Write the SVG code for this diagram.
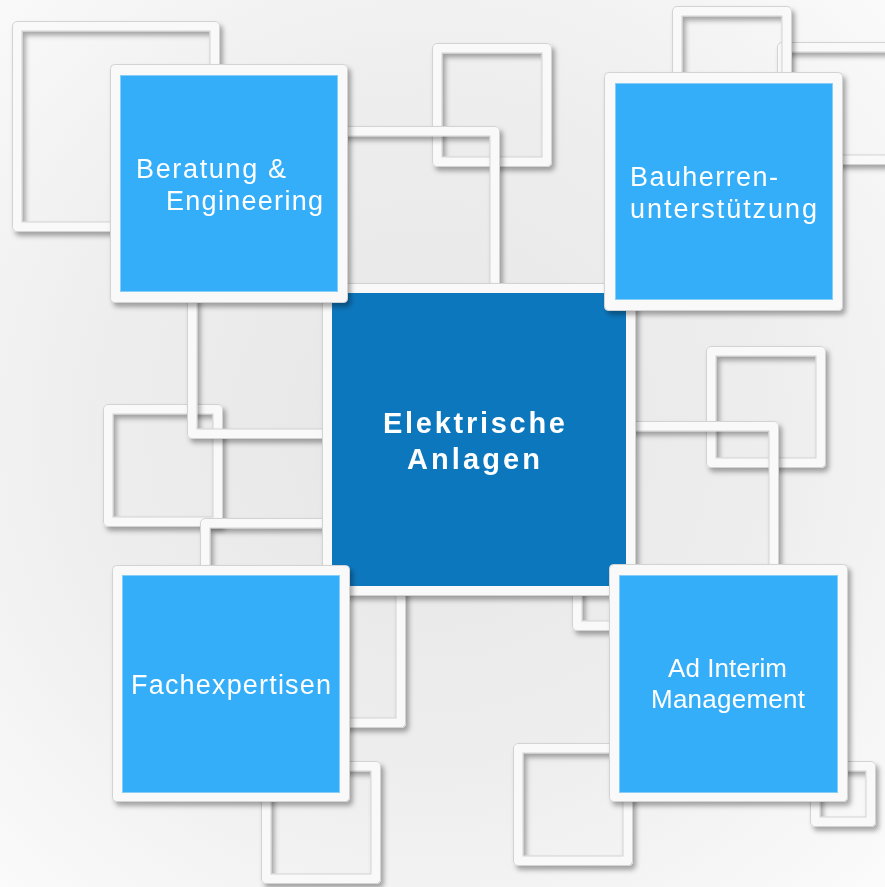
<svg xmlns="http://www.w3.org/2000/svg" width="885" height="887" viewBox="0 0 885 887">
<defs>
<radialGradient id="bg" cx="430" cy="430" r="640" gradientUnits="userSpaceOnUse">
<stop offset="0" stop-color="#e6e6e6"/>
<stop offset="0.55" stop-color="#eeeeee"/>
<stop offset="1" stop-color="#fbfbfb"/>
</radialGradient>
<filter id="sh" x="-15%" y="-15%" width="135%" height="135%">
<feGaussianBlur in="SourceAlpha" stdDeviation="2.5"/>
<feOffset dx="3" dy="4" result="o"/>
<feFlood flood-color="#000" flood-opacity="0.33"/>
<feComposite in2="o" operator="in"/>
<feMerge><feMergeNode/><feMergeNode in="SourceGraphic"/></feMerge>
</filter>
</defs>
<style>
.fr{filter:url(#sh)}
.band{fill:none;stroke:#f9f9f9;stroke-width:10;stroke-linejoin:round}
.ol{fill:none;stroke:#d3d3d3;stroke-width:1}
.card{fill:#f9f9f9;stroke:#d3d3d3;stroke-width:1}
.lb{fill:#35aef9;stroke:#86cdf8;stroke-width:1}
.db{fill:#0877bd}
.t{font-family:"Liberation Sans",Arial,sans-serif;font-size:27px;fill:#ffffff}
.ta{font-family:"Liberation Sans",Arial,sans-serif;font-size:26px;fill:#ffffff}
.tb{font-family:"Liberation Sans",Arial,sans-serif;font-size:29px;font-weight:bold;fill:#ffffff}
</style>
<rect x="0" y="0" width="885" height="887" fill="url(#bg)"/>
<g id="frames">
<g id="frameA" class="fr"><rect class="band" x="17" y="26" width="198" height="201"/><rect class="ol" x="12.5" y="21.5" width="207" height="210" rx="4.5"/><rect class="ol" x="22" y="31" width="188" height="191"/></g>
<g id="frameD" class="fr"><rect class="band" x="437" y="48" width="110" height="114"/><rect class="ol" x="432.5" y="43.5" width="119" height="123" rx="4.5"/><rect class="ol" x="442" y="53" width="100" height="104"/></g>
<g id="frameF" class="fr"><rect class="band" x="782" y="47" width="133" height="113"/><rect class="ol" x="777.5" y="42.5" width="142" height="122" rx="4.5"/><rect class="ol" x="787" y="52" width="123" height="103"/></g>
<g id="frameE" class="fr"><rect class="band" x="677" y="11" width="110" height="110"/><rect class="ol" x="672.5" y="6.5" width="119" height="119" rx="4.5"/><rect class="ol" x="682" y="16" width="100" height="100"/></g>
<g id="frameJ" class="fr"><rect class="band" x="108" y="409" width="110" height="113"/><rect class="ol" x="103.5" y="404.5" width="119" height="122" rx="4.5"/><rect class="ol" x="113" y="414" width="100" height="103"/></g>
<g id="frameB" class="fr"><rect class="band" x="192" y="131" width="303" height="303"/><rect class="ol" x="187.5" y="126.5" width="312" height="312" rx="4.5"/><rect class="ol" x="197" y="136" width="293" height="293"/></g>
<g id="frameG" class="fr"><rect class="band" x="711" y="351" width="110" height="112"/><rect class="ol" x="706.5" y="346.5" width="119" height="121" rx="4.5"/><rect class="ol" x="716" y="356" width="100" height="102"/></g>
<g id="frameH" class="fr"><rect class="band" x="577" y="426" width="197" height="200"/><rect class="ol" x="572.5" y="421.5" width="206" height="209" rx="4.5"/><rect class="ol" x="582" y="431" width="187" height="190"/></g>
<g id="frameK" class="fr"><rect class="band" x="205" y="523" width="196" height="200"/><rect class="ol" x="200.5" y="518.5" width="205" height="209" rx="4.5"/><rect class="ol" x="210" y="528" width="186" height="190"/></g>
<g id="frameL" class="fr"><rect class="band" x="266" y="766" width="110" height="113"/><rect class="ol" x="261.5" y="761.5" width="119" height="122" rx="4.5"/><rect class="ol" x="271" y="771" width="100" height="103"/></g>
<g id="frameM" class="fr"><rect class="band" x="518" y="748" width="110" height="113"/><rect class="ol" x="513.5" y="743.5" width="119" height="122" rx="4.5"/><rect class="ol" x="523" y="753" width="100" height="103"/></g>
<g id="frameN" class="fr"><rect class="band" x="815" y="766" width="56" height="56"/><rect class="ol" x="810.5" y="761.5" width="65" height="65" rx="4.5"/><rect class="ol" x="820" y="771" width="46" height="46"/></g>
</g>
<g id="connectors"/>
<g id="center" class="fr">
<rect class="card" x="322.5" y="283.5" width="313" height="312" rx="4"/>
<rect class="db" x="332" y="293" width="294" height="293"/>
<text class="tb" x="383" y="433" textLength="182" lengthAdjust="spacing">Elektrische</text>
<text class="tb" x="407" y="469" textLength="133" lengthAdjust="spacing">Anlagen</text>
</g>
<g id="beratung" class="fr">
<rect class="card" x="110.5" y="64.5" width="237" height="238" rx="4"/>
<rect class="lb" x="120.5" y="75.5" width="217" height="216"/>
<text class="t" x="136" y="178" textLength="150" lengthAdjust="spacing">Beratung &amp;</text>
<text class="t" x="166" y="210" textLength="157" lengthAdjust="spacing">Engineering</text>
</g>
<g id="bauherren" class="fr">
<rect class="card" x="604.5" y="72.5" width="238" height="238" rx="4"/>
<rect class="lb" x="615.5" y="83.5" width="217" height="216"/>
<text class="t" x="630" y="186" textLength="148" lengthAdjust="spacing">Bauherren-</text>
<text class="t" x="630" y="218" textLength="187" lengthAdjust="spacing">unterstützung</text>
</g>
<g id="fachexpertisen" class="fr">
<rect class="card" x="112.5" y="565.5" width="237" height="236" rx="4"/>
<rect class="lb" x="122.5" y="575.5" width="217" height="217"/>
<text class="t" x="131" y="694" textLength="200" lengthAdjust="spacing">Fachexpertisen</text>
</g>
<g id="adinterim" class="fr">
<rect class="card" x="609.5" y="564.5" width="238" height="237" rx="4"/>
<rect class="lb" x="619.5" y="575.5" width="218" height="217"/>
<text class="ta" x="668" y="677" textLength="119" lengthAdjust="spacing">Ad Interim</text>
<text class="ta" x="651" y="708" textLength="154" lengthAdjust="spacing">Management</text>
</g>
</svg>
